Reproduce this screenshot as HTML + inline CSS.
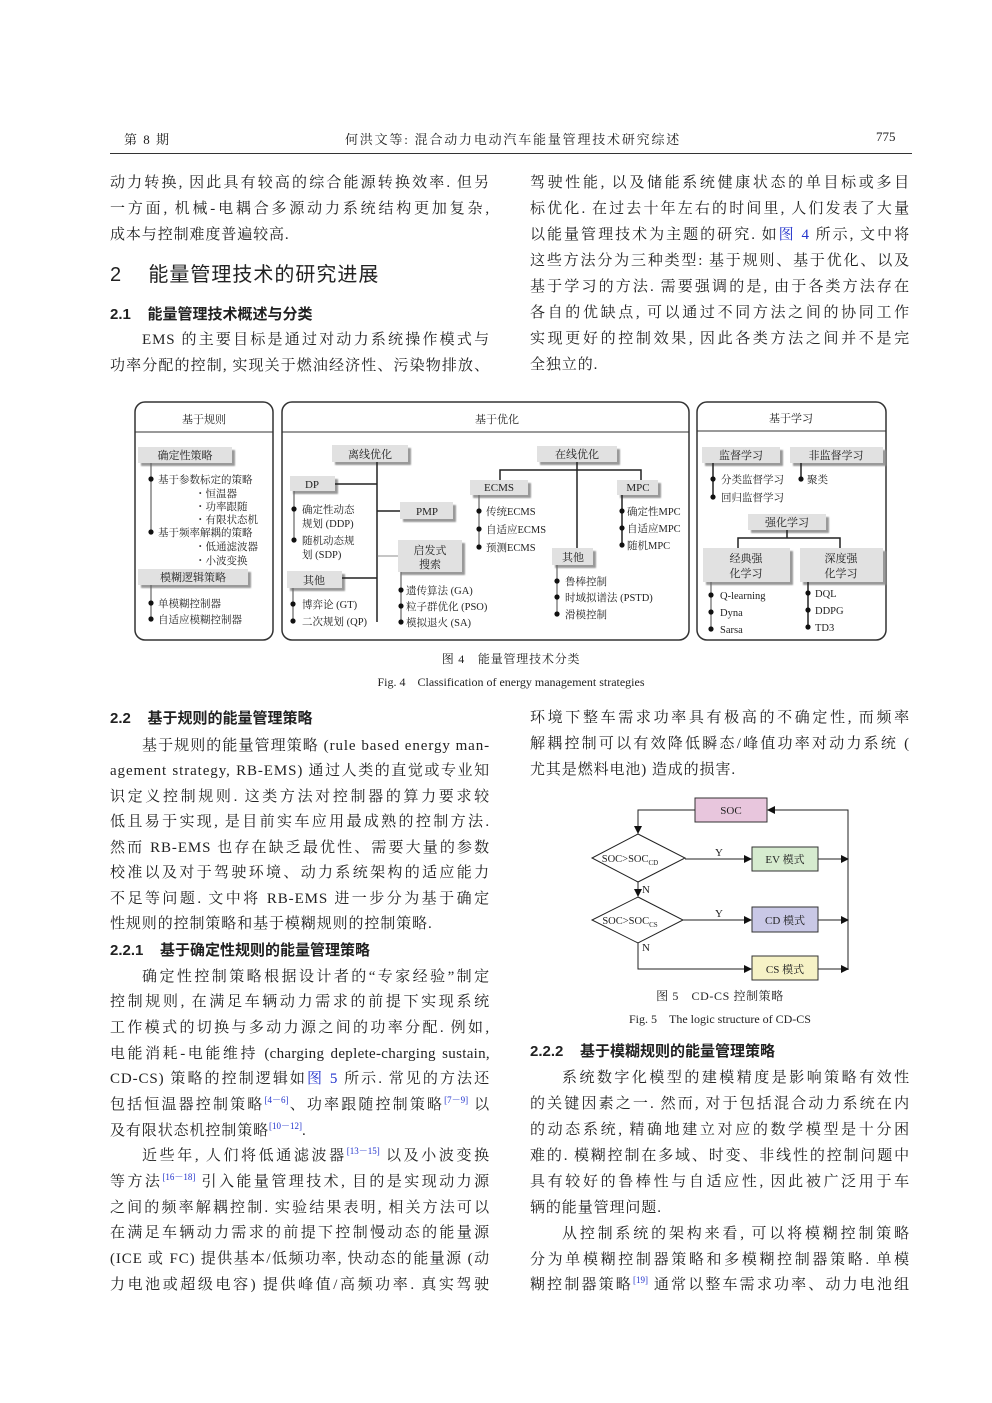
<!DOCTYPE html>
<html><head><meta charset="utf-8">
<style>
body{margin:0;background:#fff;}
#pg{position:relative;width:992px;height:1403px;overflow:hidden;background:#fff;font-family:"Liberation Serif","Noto Serif CJK SC",serif;color:#222;}
.l{position:absolute;width:380px;height:22px;line-height:22px;font-size:15px;letter-spacing:0.9px;text-align:justify;text-align-last:justify;white-space:nowrap;}
.n{text-align-last:left;}
.h{position:absolute;white-space:nowrap;font-size:15px;line-height:22px;font-family:"Liberation Sans","Noto Sans CJK SC",sans-serif;font-weight:bold;}
.b{color:#2233cc;}
sup{font-size:9px;color:#2233cc;line-height:0;letter-spacing:0;}
svg text{font-family:"Liberation Serif","Noto Serif CJK SC",serif;}
</style></head><body><div id="pg">
<div style="position:absolute;left:124px;top:129px;font-size:13px;letter-spacing:1.5px;">第 8 期</div>
<div style="position:absolute;left:345px;top:129px;font-size:13px;letter-spacing:1.8px;">何洪文等: 混合动力电动汽车能量管理技术研究综述</div>
<div style="position:absolute;left:876px;top:129px;font-size:13px;">775</div>
<div style="position:absolute;left:110px;top:153px;width:802px;height:1px;background:#333;"></div>

<div class="l" style="left:110px;top:172px">动力转换, 因此具有较高的综合能源转换效率. 但另</div>
<div class="l" style="left:110px;top:198px">一方面, 机械-电耦合多源动力系统结构更加复杂,</div>
<div class="l n" style="left:110px;top:224px">成本与控制难度普遍较高.</div>
<div class="h" style="left:110px;top:262px;font-size:20px;font-weight:normal;line-height:26px;letter-spacing:1px;">2&nbsp;&nbsp;&nbsp;&nbsp;能量管理技术的研究进展</div>
<div class="h" style="left:110px;top:304px;">2.1&nbsp;&nbsp;&nbsp;&nbsp;能量管理技术概述与分类</div>
<div class="l" style="left:142px;top:329px;width:348px;">EMS 的主要目标是通过对动力系统操作模式与</div>
<div class="l" style="left:110px;top:355px">功率分配的控制, 实现关于燃油经济性、污染物排放、</div>

<div class="l" style="left:530px;top:172px">驾驶性能, 以及储能系统健康状态的单目标或多目</div>
<div class="l" style="left:530px;top:198px">标优化. 在过去十年左右的时间里, 人们发表了大量</div>
<div class="l" style="left:530px;top:224px">以能量管理技术为主题的研究. 如<span class="b">图 4</span> 所示, 文中将</div>
<div class="l" style="left:530px;top:250px">这些方法分为三种类型: 基于规则、基于优化、以及</div>
<div class="l" style="left:530px;top:276px">基于学习的方法. 需要强调的是, 由于各类方法存在</div>
<div class="l" style="left:530px;top:302px">各自的优缺点, 可以通过不同方法之间的协同工作</div>
<div class="l" style="left:530px;top:328px">实现更好的控制效果, 因此各类方法之间并不是完</div>
<div class="l n" style="left:530px;top:354px">全独立的.</div>

<svg style="position:absolute;left:0;top:0" width="992" height="700" font-size="11">
<defs><filter id="s" x="0" y="0" width="1.2" height="1.4"><feOffset dx="3" dy="3"/><feGaussianBlur stdDeviation="0.8"/></filter></defs>
<g fill="none" stroke="#333" stroke-width="1.5">
<rect x="135" y="402" width="138" height="238" rx="10"/>
<rect x="282" y="402" width="407" height="238" rx="10"/>
<rect x="697" y="402" width="189" height="238" rx="10"/>
</g>
<g stroke="#333" stroke-width="1"><line x1="135" y1="432" x2="273" y2="432"/><line x1="282" y1="432" x2="689" y2="432"/><line x1="697" y1="431" x2="886" y2="431"/></g>
<g text-anchor="middle" font-size="11" fill="#222"><text x="204" y="423">基于规则</text><text x="497" y="423">基于优化</text><text x="791" y="422">基于学习</text></g>
<g fill="#999" filter="url(#s)">
<rect x="138" y="447" width="94" height="16"/><rect x="138" y="569" width="110" height="16"/>
<rect x="332" y="445" width="76" height="17"/><rect x="290" y="476" width="45" height="15"/><rect x="287" y="571" width="55" height="17"/>
<rect x="400" y="502" width="53" height="17"/><rect x="398" y="540" width="64" height="32"/>
<rect x="537" y="446" width="80" height="16"/><rect x="470" y="480" width="58" height="15"/><rect x="617" y="480" width="41" height="15"/><rect x="552" y="548" width="41" height="17"/>
<rect x="702" y="447" width="78" height="16"/><rect x="790" y="447" width="93" height="16"/><rect x="748" y="514" width="78" height="16"/><rect x="703" y="548" width="87" height="34"/><rect x="800" y="548" width="83" height="34"/>
</g>
<g fill="#e1e1e1">
<rect x="138" y="447" width="94" height="16"/><rect x="138" y="569" width="110" height="16"/>
<rect x="332" y="445" width="76" height="17"/><rect x="290" y="476" width="45" height="15"/><rect x="287" y="571" width="55" height="17"/>
<rect x="400" y="502" width="53" height="17"/><rect x="398" y="540" width="64" height="32"/>
<rect x="537" y="446" width="80" height="16"/><rect x="470" y="480" width="58" height="15"/><rect x="617" y="480" width="41" height="15"/><rect x="552" y="548" width="41" height="17"/>
<rect x="702" y="447" width="78" height="16"/><rect x="790" y="447" width="93" height="16"/><rect x="748" y="514" width="78" height="16"/><rect x="703" y="548" width="87" height="34"/><rect x="800" y="548" width="83" height="34"/>
</g>
<g text-anchor="middle" fill="#222">
<text x="185" y="459">确定性策略</text><text x="193" y="581">模糊逻辑策略</text>
<text x="370" y="458">离线优化</text><text x="312" y="488">DP</text><text x="314" y="584">其他</text>
<text x="427" y="515">PMP</text><text x="430" y="554">启发式</text><text x="430" y="568">搜索</text>
<text x="577" y="458">在线优化</text><text x="499" y="491">ECMS</text><text x="638" y="491">MPC</text><text x="573" y="561">其他</text>
<text x="741" y="459">监督学习</text><text x="836" y="459">非监督学习</text><text x="787" y="526">强化学习</text>
<text x="746" y="562">经典强</text><text x="746" y="577">化学习</text><text x="841" y="562">深度强</text><text x="841" y="577">化学习</text>
</g>
<g stroke="#666" stroke-width="1.2" fill="none">
<line x1="151" y1="463" x2="151" y2="532"/><line x1="151" y1="585" x2="151" y2="619"/>
<line x1="294" y1="491" x2="294" y2="540"/><line x1="293" y1="588" x2="293" y2="621"/>
<line x1="401" y1="572" x2="401" y2="622"/>
<line x1="479" y1="495" x2="479" y2="547"/><line x1="557" y1="565" x2="557" y2="614"/>
<line x1="711" y1="582" x2="711" y2="629"/>
</g>
<g stroke="#222" stroke-width="1.5" fill="none">
<line x1="377" y1="462" x2="377" y2="622"/><line x1="335" y1="484" x2="377" y2="484"/><line x1="342" y1="578" x2="377" y2="578"/><line x1="377" y1="511" x2="400" y2="511"/>
<line x1="577" y1="462" x2="577" y2="548"/><polyline points="500,480 500,470 641,470 641,480"/>
<line x1="622" y1="495" x2="622" y2="545"/>
<line x1="713" y1="463" x2="713" y2="497"/><line x1="801" y1="463" x2="801" y2="479"/>
<polyline points="738,548 738,538 840,538 840,548"/><line x1="787" y1="530" x2="787" y2="538"/>
<line x1="808" y1="582" x2="808" y2="627"/>
</g>
<line x1="377" y1="556" x2="398" y2="556" stroke="#666" stroke-width="0.8"/>
<g fill="#111">
<circle cx="151" cy="479" r="2.6"/><circle cx="151" cy="532" r="2.6"/><circle cx="151" cy="603" r="2.6"/><circle cx="151" cy="619" r="2.6"/>
<circle cx="294" cy="509" r="2.6"/><circle cx="294" cy="540" r="2.6"/><circle cx="293" cy="604" r="2.6"/><circle cx="293" cy="621" r="2.6"/>
<circle cx="401" cy="590" r="2.6"/><circle cx="401" cy="606" r="2.6"/><circle cx="401" cy="622" r="2.6"/>
<circle cx="479" cy="511" r="2.6"/><circle cx="479" cy="529" r="2.6"/><circle cx="479" cy="547" r="2.6"/>
<circle cx="622" cy="511" r="2.6"/><circle cx="622" cy="528" r="2.6"/><circle cx="622" cy="545" r="2.6"/>
<circle cx="557" cy="581" r="2.6"/><circle cx="557" cy="597" r="2.6"/><circle cx="557" cy="614" r="2.6"/>
<circle cx="713" cy="479" r="2.6"/><circle cx="713" cy="497" r="2.6"/><circle cx="801" cy="479" r="2.6"/>
<circle cx="711" cy="595" r="2.6"/><circle cx="711" cy="612" r="2.6"/><circle cx="711" cy="629" r="2.6"/>
<circle cx="808" cy="593" r="2.6"/><circle cx="808" cy="610" r="2.6"/><circle cx="808" cy="627" r="2.6"/>
</g>
<g fill="#222" font-size="10.5">
<text x="158" y="483">基于参数标定的策略</text><text x="195" y="497">・恒温器</text><text x="195" y="510">・功率跟随</text><text x="195" y="523">・有限状态机</text>
<text x="158" y="536">基于频率解耦的策略</text><text x="195" y="550">・低通滤波器</text><text x="195" y="564">・小波变换</text>
<text x="158" y="607">单模糊控制器</text><text x="158" y="623">自适应模糊控制器</text>
<text x="302" y="513">确定性动态</text><text x="302" y="527">规划 (DDP)</text><text x="302" y="544">随机动态规</text><text x="302" y="558">划 (SDP)</text>
<text x="302" y="608">博弈论 (GT)</text><text x="302" y="625">二次规划 (QP)</text>
<text x="406" y="594">遗传算法 (GA)</text><text x="406" y="610">粒子群优化 (PSO)</text><text x="406" y="626">模拟退火 (SA)</text>
<text x="486" y="515">传统ECMS</text><text x="486" y="533">自适应ECMS</text><text x="486" y="551">预测ECMS</text>
<text x="627" y="515">确定性MPC</text><text x="627" y="532">自适应MPC</text><text x="627" y="549">随机MPC</text>
<text x="565" y="585">鲁棒控制</text><text x="565" y="601">时域拟谱法 (PSTD)</text><text x="565" y="618">滑模控制</text>
<text x="721" y="483">分类监督学习</text><text x="721" y="501">回归监督学习</text><text x="807" y="483">聚类</text>
<text x="720" y="599">Q-learning</text><text x="720" y="616">Dyna</text><text x="720" y="633">Sarsa</text>
<text x="815" y="597">DQL</text><text x="815" y="614">DDPG</text><text x="815" y="631">TD3</text>
</g>
<g text-anchor="middle" fill="#222"><text x="511" y="663" font-size="12" letter-spacing="0.8">图 4　能量管理技术分类</text><text x="511" y="686" font-size="12">Fig. 4　Classification of energy management strategies</text></g>
</svg>

<div class="h" style="left:110px;top:708px;">2.2&nbsp;&nbsp;&nbsp;&nbsp;基于规则的能量管理策略</div>
<div class="l" style="left:142px;top:735px;width:348px;">基于规则的能量管理策略 (rule based energy man-</div>
<div class="l" style="left:110px;top:760px">agement strategy, RB-EMS) 通过人类的直觉或专业知</div>
<div class="l" style="left:110px;top:786px">识定义控制规则. 这类方法对控制器的算力要求较</div>
<div class="l" style="left:110px;top:811px">低且易于实现, 是目前实车应用最成熟的控制方法.</div>
<div class="l" style="left:110px;top:837px">然而 RB-EMS 也存在缺乏最优性、需要大量的参数</div>
<div class="l" style="left:110px;top:862px">校准以及对于驾驶环境、动力系统架构的适应能力</div>
<div class="l" style="left:110px;top:888px">不足等问题. 文中将 RB-EMS 进一步分为基于确定</div>
<div class="l n" style="left:110px;top:913px">性规则的控制策略和基于模糊规则的控制策略.</div>
<div class="h" style="left:110px;top:940px;">2.2.1&nbsp;&nbsp;&nbsp;&nbsp;基于确定性规则的能量管理策略</div>
<div class="l" style="left:142px;top:966px;width:348px;">确定性控制策略根据设计者的“专家经验”制定</div>
<div class="l" style="left:110px;top:991px">控制规则, 在满足车辆动力需求的前提下实现系统</div>
<div class="l" style="left:110px;top:1017px">工作模式的切换与多动力源之间的功率分配. 例如,</div>
<div class="l" style="left:110px;top:1043px;letter-spacing:0.3px">电能消耗-电能维持 (charging deplete-charging sustain,</div>
<div class="l" style="left:110px;top:1068px">CD-CS) 策略的控制逻辑如<span class="b">图 5</span> 所示. 常见的方法还</div>
<div class="l" style="left:110px;top:1094px">包括恒温器控制策略<sup>[4－6]</sup>、功率跟随控制策略<sup>[7－9]</sup> 以</div>
<div class="l n" style="left:110px;top:1120px">及有限状态机控制策略<sup>[10－12]</sup>.</div>
<div class="l" style="left:142px;top:1145px;width:348px;">近些年, 人们将低通滤波器<sup>[13－15]</sup> 以及小波变换</div>
<div class="l" style="left:110px;top:1171px">等方法<sup>[16－18]</sup> 引入能量管理技术, 目的是实现动力源</div>
<div class="l" style="left:110px;top:1197px">之间的频率解耦控制. 实验结果表明, 相关方法可以</div>
<div class="l" style="left:110px;top:1222px">在满足车辆动力需求的前提下控制慢动态的能量源</div>
<div class="l" style="left:110px;top:1248px">(ICE 或 FC) 提供基本/低频功率, 快动态的能量源 (动</div>
<div class="l" style="left:110px;top:1274px">力电池或超级电容) 提供峰值/高频功率. 真实驾驶</div>

<div class="l" style="left:530px;top:707px">环境下整车需求功率具有极高的不确定性, 而频率</div>
<div class="l" style="left:530px;top:733px">解耦控制可以有效降低瞬态/峰值功率对动力系统 (</div>
<div class="l n" style="left:530px;top:759px">尤其是燃料电池) 造成的损害.</div>

<svg style="position:absolute;left:560px;top:780px" width="320" height="260" font-size="11">
<defs><marker id="a" markerWidth="8" markerHeight="8" refX="7" refY="4" orient="auto" markerUnits="userSpaceOnUse"><path d="M0,0 L8,4 L0,8z" fill="#111"/></marker></defs>
<g transform="translate(-560,-780)">
<rect x="695" y="798" width="72" height="24" fill="#e8c6dd" stroke="#333"/>
<rect x="752" y="847" width="66" height="24" fill="#d6ebcf" stroke="#333"/>
<rect x="752" y="907" width="66" height="25" fill="#c9c8e6" stroke="#333"/>
<rect x="752" y="956" width="66" height="24" fill="#f6f2c6" stroke="#333"/>
<polygon points="638,834 685,858 638,882 592,858" fill="#fff" stroke="#222"/>
<polygon points="638,897 683,920 638,943 592,920" fill="#fff" stroke="#222"/>
<g stroke="#222" fill="none" stroke-width="1">
<polyline points="695,810 638,810 638,833" marker-end="url(#a)"/>
<line x1="685" y1="859" x2="751" y2="859" marker-end="url(#a)"/>
<line x1="638" y1="882" x2="638" y2="896" marker-end="url(#a)"/>
<line x1="683" y1="920" x2="751" y2="920" marker-end="url(#a)"/>
<polyline points="638,943 638,969 751,969" marker-end="url(#a)"/>
<line x1="818" y1="859" x2="848" y2="859" marker-end="url(#a)"/>
<line x1="818" y1="920" x2="848" y2="920" marker-end="url(#a)"/>
<line x1="818" y1="969" x2="848" y2="969" marker-end="url(#a)"/>
<polyline points="848,970 848,810 768,810" marker-end="url(#a)"/>
</g>
<g fill="#222" text-anchor="middle">
<text x="731" y="814">SOC</text><text x="785" y="863">EV 模式</text><text x="785" y="924">CD 模式</text><text x="785" y="973">CS 模式</text>
<text x="630" y="862" font-size="10.5">SOC&gt;SOC<tspan font-size="7" dy="3">CD</tspan></text>
<text x="630" y="924" font-size="10.5">SOC&gt;SOC<tspan font-size="7" dy="3">CS</tspan></text>
<text x="719" y="856">Y</text><text x="719" y="917">Y</text><text x="646" y="893">N</text><text x="646" y="951">N</text>
<text x="720" y="1000" font-size="12" letter-spacing="0.6">图 5　CD-CS 控制策略</text>
<text x="720" y="1023" font-size="12">Fig. 5　The logic structure of CD-CS</text>
</g>
</g>
</svg>

<div class="h" style="left:530px;top:1041px;">2.2.2&nbsp;&nbsp;&nbsp;&nbsp;基于模糊规则的能量管理策略</div>
<div class="l" style="left:562px;top:1067px;width:348px;">系统数字化模型的建模精度是影响策略有效性</div>
<div class="l" style="left:530px;top:1093px">的关键因素之一. 然而, 对于包括混合动力系统在内</div>
<div class="l" style="left:530px;top:1119px">的动态系统, 精确地建立对应的数学模型是十分困</div>
<div class="l" style="left:530px;top:1145px">难的. 模糊控制在多域、时变、非线性的控制问题中</div>
<div class="l" style="left:530px;top:1171px">具有较好的鲁棒性与自适应性, 因此被广泛用于车</div>
<div class="l n" style="left:530px;top:1197px">辆的能量管理问题.</div>
<div class="l" style="left:562px;top:1223px;width:348px;">从控制系统的架构来看, 可以将模糊控制策略</div>
<div class="l" style="left:530px;top:1249px">分为单模糊控制器策略和多模糊控制器策略. 单模</div>
<div class="l" style="left:530px;top:1274px">糊控制器策略<sup>[19]</sup> 通常以整车需求功率、动力电池组</div>
</div></body></html>
